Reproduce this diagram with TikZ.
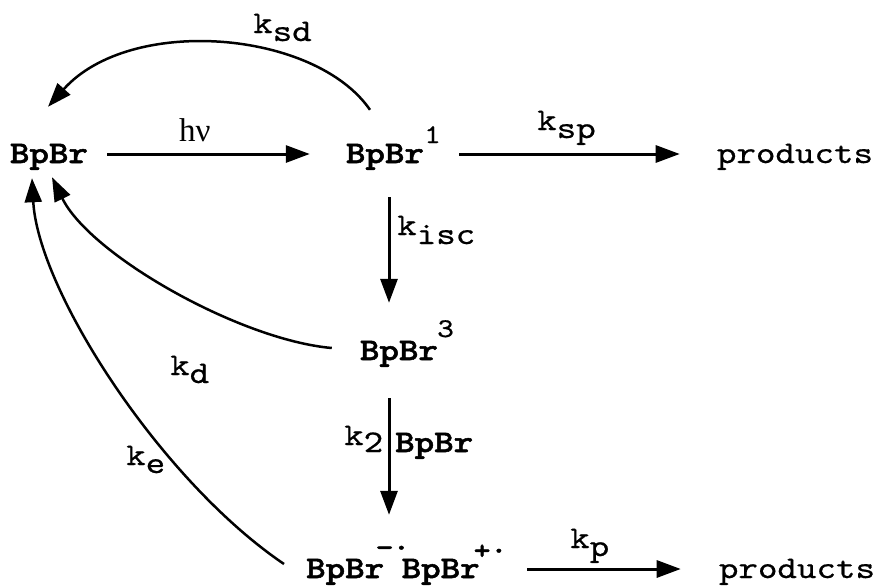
\documentclass[tikz,border=0pt]{standalone}
\usepackage{fontspec}
\setmainfont{Liberation Serif}
\newfontfamily\cour{lmmono10-regular.otf}[BoldFont=lmmonolt10-bold.otf, FakeStretch=1.18, UprightFeatures={FakeBold=0.6}, BoldFeatures={FakeBold=1.6}]
\usetikzlibrary{arrows.meta}
\begin{document}
\begin{tikzpicture}[x=1pt,y=-1pt,
  every node/.style={inner sep=0pt, font=\cour\fontsize{31.5}{36}\selectfont},
  mol/.style={font=\cour\bfseries\fontsize{31.5}{36}\selectfont, text height=18pt, text depth=0pt, anchor=base},
  prod/.style={font=\cour\fontsize{31.5}{36}\selectfont, text height=18pt, text depth=0pt, anchor=base},
  lbl/.style={anchor=base west},
  supx/.style={font=\cour\fontsize{27}{32}\selectfont, anchor=base west},
  arr/.style={line width=3pt, -{Triangle[length=24pt,width=17pt]}},
  carr/.style={line width=2.5pt, -{Triangle[length=24pt,width=17pt]}}
]
\useasboundingbox (0,0) rectangle (879,587);
% species
\node[mol] (A) at (49,163) {BpBr};
\node[mol] (B) at (385,163) {BpBr};
\node[supx] (B1) at (424,143) {1};
\node[prod] (P1) at (795,163) {products};
\node[mol] (C) at (399,360) {BpBr};
\node[supx] (C3) at (437,337) {3};
\node[mol, anchor=base west] (D) at (306,578) {BpBr\kern-8pt\raisebox{22pt}{\fontsize{27}{32}\selectfont −·}\kern-8pt BpBr\kern-6pt\raisebox{19pt}{\fontsize{27}{32}\selectfont +·}};
\node[prod] (P2) at (797,578) {products};
% labels
\node[lbl] (lhv) at (179,141) {\rmfamily\fontsize{33}{38}\selectfont hν};
\node[lbl] (lsd) at (253,33) {k\raisebox{-8pt}{sd}};
\node[lbl] (lsp) at (537,130) {k\raisebox{-8pt}{sp}};
\node[lbl] (lisc) at (397,235) {k\raisebox{-9pt}{isc}};
\node[lbl] (ld) at (170,375) {k\raisebox{-8pt}{d}};
\node[lbl] (l2) at (344,445) {k\raisebox{-7pt}{2}};
\node[lbl, font=\cour\bfseries\fontsize{31.5}{36}\selectfont] (l2b) at (395,452) {BpBr};
\node[lbl] (le) at (126,465) {k\raisebox{-8pt}{e}};
\node[lbl] (lp) at (570,548) {k\raisebox{-8pt}{p}};
% straight arrows
\coordinate (ax) at (389,0);
\draw[arr, shorten <=19pt, shorten >=36pt] (A) -- (B);
\draw[arr, shorten <=18pt, shorten >=37pt] (B1.east |- B) -- (P1);
\draw[arr, shorten <=34pt, shorten >=39pt] (B.south -| ax) -- (C.north -| ax);
\draw[arr, shorten <=38pt, shorten >=45pt] (C.south -| ax) -- (D.north -| ax);
\draw[arr, shorten <=20pt, shorten >=38pt] (D) -- (P2);
% curved arrows
\draw[carr] ([xshift=-15pt,yshift=35pt]B.north) .. controls (315,30) and (130,15) .. ([xshift=-1pt,yshift=38pt]A.north);
\draw[carr] ([xshift=-28pt,yshift=3pt]C.west) .. controls (240,340) and (90,255) .. ([xshift=3pt,yshift=-14pt]A.south);
\draw[carr] ([xshift=-22pt,yshift=5pt]D.west) .. controls (160,480) and (38,290) .. ([xshift=-17pt,yshift=-15pt]A.south);
\end{tikzpicture}
\end{document}
